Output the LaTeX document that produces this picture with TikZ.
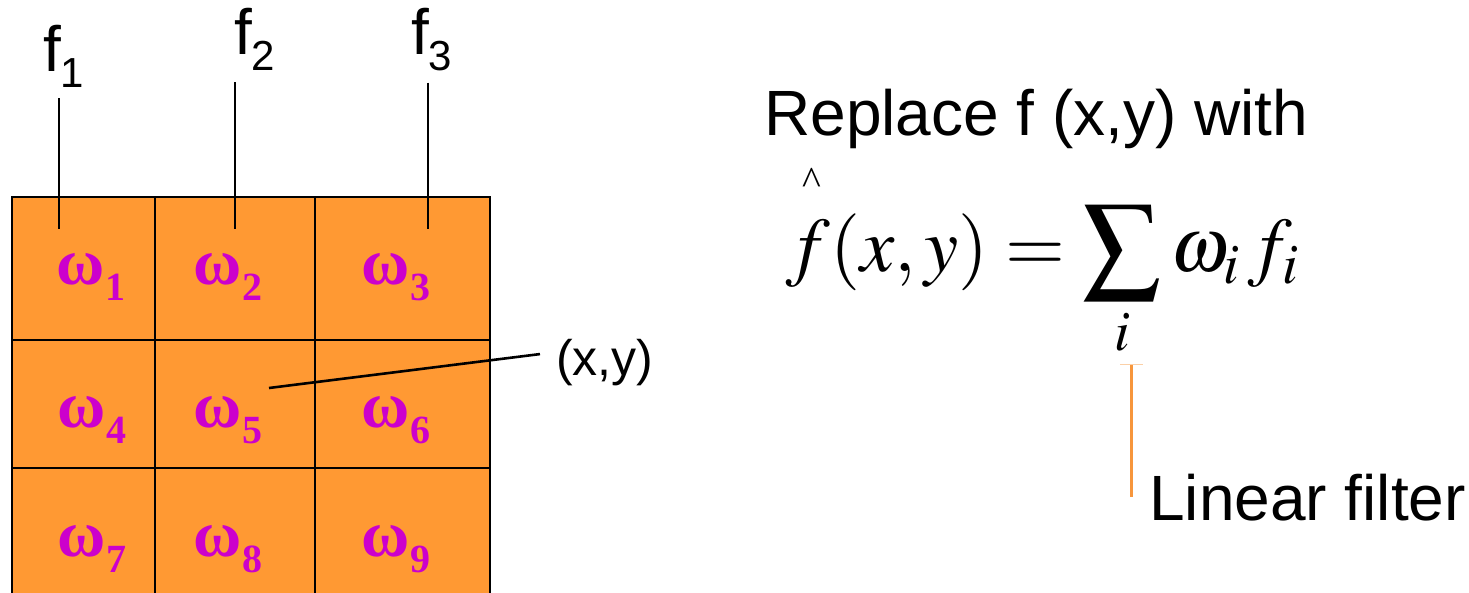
\documentclass[tikz,border=0pt]{standalone}
\usepackage{mathptmx}
\usepackage[no-math]{fontspec}
\setmainfont{Liberation Sans}
\newfontfamily\wfont{Liberation Serif}
\usetikzlibrary{positioning}
\definecolor{CellOrange}  {RGB}{255, 153,  51}
\definecolor{WeightPink}  {RGB}{204,   0, 204}
\definecolor{FilterOrange}{RGB}{247, 150,  60}
\newcommand{\fsub}[1]{f\raisebox{-16pt}{\fontsize{42}{42}\selectfont #1}}
\newcommand{\wsub}[1]{ω\raisebox{-16pt}{\fontsize{40}{40}\selectfont #1}}

\begin{document}
\begin{tikzpicture}[
  x=1pt, y=-1pt,
  font=\fontsize{64}{70}\selectfont,
  label/.style={
    anchor=base west, inner sep=0pt},
  weight/.style={
    anchor=base, inner sep=0pt,
    text=WeightPink,
    font=\wfont\bfseries\fontsize{66}{66}\selectfont},
  gridline/.style={
    line width=2.8pt, color=black},
  tap/.style={
    line width=2.6pt, color=black},
  filter/.style={
    line width=3pt, color=FilterOrange}
]
\useasboundingbox (0,0) rectangle (1469,593);

% the 3x3 mask, cut off at the bottom edge
\begin{scope}
\clip (0,0) rectangle (1469,593);
\fill[CellOrange] (12,197) rectangle (490,620);
\draw[gridline] (12,620) -- (12,197) -- (490,197) -- (490,620);
\draw[gridline] (155,197) -- (155,620);
\draw[gridline] (315,197) -- (315,620);
\draw[gridline] (12,340) -- (490,340);
\draw[gridline] (12,468) -- (490,468);
\end{scope}

\node[weight] (w1) at (91,285)  {\wsub{1}};
\node[weight] (w2) at (228,285) {\wsub{2}};
\node[weight] (w3) at (396,285) {\wsub{3}};
\node[weight] (w4) at (92,427)  {\wsub{4}};
\node[weight] (w5) at (228,427) {\wsub{5}};
\node[weight] (w6) at (396,427) {\wsub{6}};
\node[weight] (w7) at (92,556)  {\wsub{7}};
\node[weight] (w8) at (228,556) {\wsub{8}};
\node[weight] (w9) at (396,556) {\wsub{9}};

% image samples above the mask
\node[label] (f1) at (43,72)  {\fsub{1}};
\node[label] (f2) at (234,55) {\fsub{2}};
\node[label] (f3) at (411,55) {\fsub{3}};

\coordinate (f1end) at (59,229);
\coordinate (f2end) at (235,229);
\coordinate (f3end) at (428,229);
\draw[tap] ([yshift=-10pt]f1.south -| f1end) -- (f1end);
\draw[tap] ([yshift=-11pt]f2.south -| f2end) -- (f2end);
\draw[tap] ([yshift=-11pt]f3.south -| f3end) -- (f3end);

% centre pixel
\node[label, font=\fontsize{50}{56}\selectfont]
  (pos) at (556,375) {(x,y)};
\coordinate (centre) at (269,388);
\draw[tap] (centre) -- ([xshift=-16pt,yshift=8pt]pos.west);

% the formula
\node[label] (replace) at (764,136) {Replace f (x,y) with};
\node[anchor=base, inner sep=0pt,
  font=\wfont\fontsize{40}{40}\selectfont]
  (hat) at (812,195) {\textasciicircum};
\node[label, font=\fontsize{77}{84}\selectfont]
  (sum) at (786,272)
  {$\displaystyle f(x,y)=\sum_i \omega_i\mkern2mu f_i$};

\node[label] (lin) at (1149,520) {Linear filter};
\coordinate (tick) at (1131,364);
\draw[filter] (tick) -- (tick |- lin.west);
\draw[FilterOrange!45, line width=1pt]
  ([xshift=-11pt]tick) -- ([xshift=12pt]tick);

\end{tikzpicture}
\end{document}
